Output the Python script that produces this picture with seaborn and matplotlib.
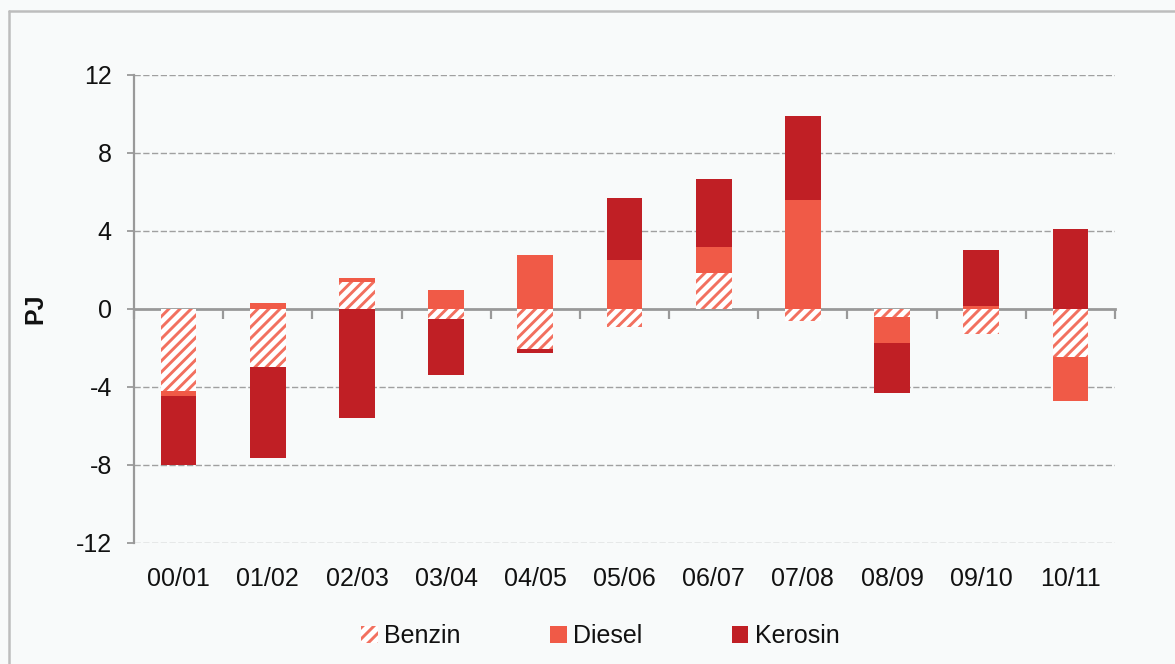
import matplotlib
matplotlib.use("Agg")
import matplotlib.pyplot as plt
from matplotlib.lines import Line2D
import numpy as np
import pandas as pd
import seaborn as sns

# Change in fuel use per year pair, PJ
years = ["00/01", "01/02", "02/03", "03/04", "04/05", "05/06",
         "06/07", "07/08", "08/09", "09/10", "10/11"]
benzin = [-4.2, -2.95, 1.4, -0.5, -2.05, -0.9, 1.85, -0.6, -0.4, -1.3, -2.45]
diesel = [-0.25, 0.3, 0.2, 1.0, 2.75, 2.5, 1.35, 5.6, -1.35, 0.15, -2.25]
kerosin = [-3.55, -4.7, -5.6, -2.9, -0.2, 3.2, 3.45, 4.3, -2.55, 2.9, 4.1]
y_ticks = [-12, -8, -4, 0, 4, 8, 12]

BG = "#F8FAFA"
C_BENZIN = "#F2705F"
C_DIESEL = "#F05A47"
C_KEROSIN = "#C01F25"
GRID = "#A0A0A0"
AXIS = "#999999"

sns.set_theme(style="white")
plt.rcParams["font.family"] = ["Liberation Sans", "DejaVu Sans"]
plt.rcParams["hatch.linewidth"] = 2.1

fig = plt.figure(figsize=(11.75, 6.64), dpi=100, facecolor=BG)
ax = fig.add_axes([134 / 1175, 1 - 543 / 664, (1115 - 134) / 1175, (543 - 75) / 664])
ax.set_facecolor(BG)

# Stack positives upward and negatives downward, in series order
series = [("Benzin", benzin), ("Diesel", diesel), ("Kerosin", kerosin)]
pos_base = np.zeros(len(years))
neg_base = np.zeros(len(years))
styles = {
    "Benzin": dict(color="white", edgecolor=C_BENZIN, hatch="///"),
    "Diesel": dict(color=C_DIESEL, edgecolor=C_DIESEL),
    "Kerosin": dict(color=C_KEROSIN, edgecolor=C_KEROSIN),
}
for name, vals in series:
    v = np.asarray(vals, dtype=float)
    bottom = np.where(v >= 0, pos_base, neg_base)
    df = pd.DataFrame({"year": years, "value": v})
    sns.barplot(data=df, x="year", y="value", order=years, ax=ax,
                bottom=bottom, width=0.4, linewidth=0, label=name,
                saturation=1, zorder=3, **styles[name])
    pos_base = pos_base + np.where(v >= 0, v, 0)
    neg_base = neg_base + np.where(v < 0, v, 0)

handles, labels = ax.get_legend_handles_labels()
if ax.get_legend() is not None:
    ax.get_legend().remove()

ax.set_xlim(-0.5, len(years) - 0.5)
ax.set_ylim(-12, 12)
ax.set_yticks(y_ticks)
ax.set_yticklabels([str(t) for t in y_ticks])
for t in y_ticks:
    if t != 0:
        ax.axhline(t, color=GRID, linestyle=(0, (4.5, 1.8)), linewidth=1.0, zorder=1)

for s in ["top", "right", "bottom"]:
    ax.spines[s].set_visible(False)
ax.spines["left"].set_color(AXIS)
ax.spines["left"].set_linewidth(1.6)

ax.tick_params(axis="y", length=5, width=1.3, color=AXIS, pad=11,
               labelsize=18, labelcolor="#111111", left=True)
ax.tick_params(axis="x", length=0, pad=17, labelsize=18, labelcolor="#111111")
ax.set_xlabel("")
ax.set_ylabel("PJ", fontsize=18, fontweight="bold", labelpad=20, color="#111111")

# Zero line with category boundary ticks pointing down
zero = ax.secondary_xaxis(0.5)
zero.set_xticks(np.arange(-0.5, len(years), 1.0))
zero.set_xticklabels([])
zero.tick_params(axis="x", which="both", top=True, bottom=False, length=7,
                 width=1.6, color=AXIS, direction="in", labeltop=False)
for s in ["bottom", "left", "right"]:
    zero.spines[s].set_visible(False)
zero.spines["top"].set_visible(True)
zero.spines["top"].set_color(AXIS)
zero.spines["top"].set_linewidth(2.0)

fig.legend(handles, labels, loc="center", bbox_to_anchor=(0.511, 0.042),
           ncol=3, frameon=False, fontsize=18, handlelength=0.65,
           handleheight=0.65, handletextpad=0.25, columnspacing=3.6,
           labelcolor="#111111")

# Outer frame (top and left edges)
fig.add_artist(Line2D([9 / 1175, 9 / 1175], [0, 1 - 11 / 664], transform=fig.transFigure,
                      color="#BDBDBD", linewidth=1.8))
fig.add_artist(Line2D([9 / 1175, 1], [1 - 11 / 664, 1 - 11 / 664], transform=fig.transFigure,
                      color="#BDBDBD", linewidth=1.8))

fig.savefig("out.png", dpi=100, facecolor=BG)
